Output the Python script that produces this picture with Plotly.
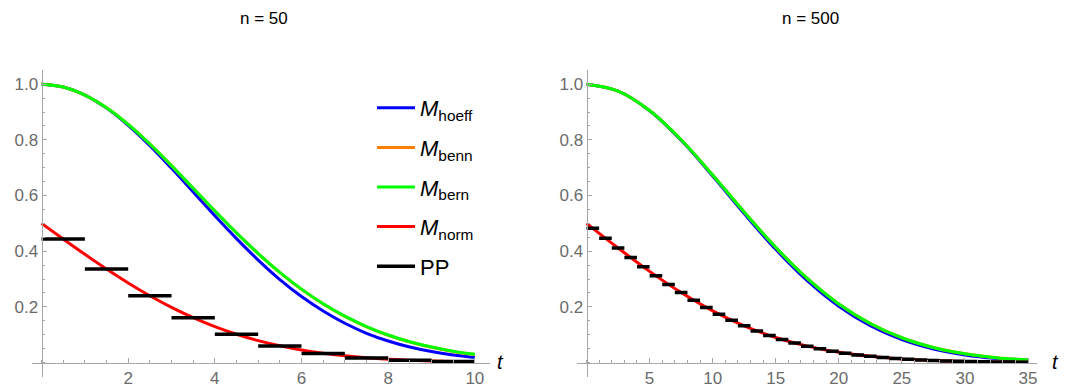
import plotly.graph_objects as go

# ---------------- data ----------------
t50 = [0, 0.5, 1, 1.5, 2, 2.5, 3, 3.5, 4, 4.5, 5, 5.5, 6, 6.5, 7, 7.5, 8, 8.5, 9, 9.5, 10]
hoeff50 = [1.0, 0.990, 0.961, 0.914, 0.852, 0.779, 0.698, 0.613, 0.527, 0.445, 0.368,
           0.298, 0.237, 0.185, 0.141, 0.105, 0.0773, 0.0556, 0.0392, 0.0271, 0.0183]
benn50 = [1.0, 0.990, 0.961, 0.9155, 0.8556, 0.7850, 0.7072, 0.6259, 0.5443, 0.4652, 0.3909,
          0.3231, 0.2627, 0.2101, 0.1655, 0.1283, 0.0979, 0.0736, 0.0545, 0.0398, 0.0286]
bern50 = [1.0, 0.990, 0.961, 0.9155, 0.8557, 0.7851, 0.7074, 0.6261, 0.5447, 0.4657, 0.3916,
          0.3239, 0.2636, 0.2111, 0.1665, 0.1293, 0.0989, 0.0746, 0.0554, 0.0406, 0.0293]
norm50 = [0.5, 0.4438, 0.3887, 0.3357, 0.2858, 0.2398, 0.1981, 0.1611, 0.1289, 0.1015, 0.0786,
          0.0599, 0.0448, 0.0330, 0.0239, 0.0169, 0.0118, 0.0081, 0.0055, 0.0036, 0.0023]
pp50_start = [0, 1, 2, 3, 4, 5, 6, 7, 8, 9]
pp50 = [0.4439, 0.3359, 0.2399, 0.1611, 0.1013, 0.0595, 0.0325, 0.0164, 0.0077, 0.0033]

t500 = [0, 2.5, 5, 7.5, 10, 12.5, 15, 17.5, 20, 22.5, 25, 27.5, 30, 32.5, 35]
hoeff500 = [1.0, 0.9753, 0.9048, 0.7985, 0.6703, 0.5353, 0.4066, 0.2938, 0.2019, 0.1320,
            0.0821, 0.0486, 0.0273, 0.0146, 0.00745]
benn500 = [1.0, 0.9754, 0.9054, 0.8003, 0.6739, 0.5407, 0.4137, 0.3020, 0.2104, 0.1399,
           0.0889, 0.0539, 0.0313, 0.0173, 0.00922]
bern500 = [1.0, 0.9754, 0.9054, 0.8003, 0.6739, 0.5408, 0.4138, 0.3021, 0.2105, 0.1400,
           0.0890, 0.0540, 0.0314, 0.0174, 0.00926]
norm500 = [0.5, 0.4115, 0.3274, 0.2512, 0.1855, 0.1318, 0.0899, 0.0588, 0.0368, 0.0221,
           0.0127, 0.0070, 0.0036, 0.0018, 0.0009]
pp500_start = list(range(35))
pp500 = [0.4822, 0.4466, 0.4115, 0.3771, 0.3437, 0.3114, 0.2805, 0.2512, 0.2235, 0.1977,
         0.1738, 0.1518, 0.1318, 0.1136, 0.0973, 0.0828, 0.0700, 0.0588, 0.0490, 0.0406,
         0.0334, 0.0272, 0.0221, 0.0178, 0.0142, 0.0113, 0.0089, 0.0070, 0.0054, 0.0042,
         0.0032, 0.0024, 0.0018, 0.0014, 0.0010]

titles = ["n = 50", "n = 500"]
names = ["<i>M</i><sub>hoeff</sub>", "<i>M</i><sub>benn</sub>", "<i>M</i><sub>bern</sub>",
         "<i>M</i><sub>norm</sub>", "PP"]
colors = ["#0000ff", "#ff8000", "#00ff00", "#ff0000", "#000000"]
y_ticks = [0.2, 0.4, 0.6, 0.8, 1.0]
y_ticktext = ["0.2", "0.4", "0.6", "0.8", "1.0"]
x_ticks_50 = [2, 4, 6, 8, 10]
x_ticks_500 = [5, 10, 15, 20, 25, 30, 35]

# ---------------- figure ----------------
W, H = 1070, 392
FONT = "Liberation Sans"
AX = "#a6a6a6"
LBL = "#6b6b6b"

fig = go.Figure()


def steps(starts, vals):
    xs, ys = [], []
    for s, v in zip(starts, vals):
        xs += [s, s + 1, None]
        ys += [v, v, None]
    return xs, ys


panels = [
    (t50, [hoeff50, benn50, bern50, norm50], pp50_start, pp50, "x", "y"),
    (t500, [hoeff500, benn500, bern500, norm500], pp500_start, pp500, "x2", "y2"),
]
for pi, (tt, curves, ps, pv, xa, ya) in enumerate(panels):
    for ci, cv in enumerate(curves):
        fig.add_trace(go.Scatter(
            x=tt, y=cv, mode="lines", name=names[ci],
            line=dict(color=colors[ci], width=3, shape="spline", smoothing=1.0),
            xaxis=xa, yaxis=ya, showlegend=(pi == 0), legendgroup="g%d" % ci,
            hoverinfo="skip"))
    sx, sy = steps(ps, pv)
    fig.add_trace(go.Scatter(
        x=sx, y=sy, mode="lines", name=names[4],
        line=dict(color=colors[4], width=3.5),
        xaxis=xa, yaxis=ya, showlegend=(pi == 0), legendgroup="g4",
        hoverinfo="skip"))

# pixel geometry
y_top_px, y_bot_px, y0_px = 70.0, 376.7, 362.5
ydom = [1 - y_bot_px / H, 1 - y_top_px / H]
yrng = [-0.051, 1.051]
x_axis_pos = 1 - y0_px / H

common_x = dict(showgrid=False, zeroline=False, showline=True, linecolor=AX, linewidth=1,
                ticks="inside", ticklen=4.5, tickcolor=AX, tickwidth=1,
                tickfont=dict(family=FONT, size=17, color=LBL),
                anchor="free", position=x_axis_pos)
common_y = dict(showgrid=False, zeroline=False, showline=True, linecolor=AX, linewidth=1,
                ticks="inside", ticklen=4.5, tickcolor=AX, tickwidth=1,
                tickfont=dict(family=FONT, size=17, color=LBL),
                domain=ydom, range=yrng, anchor="free",
                tickvals=y_ticks, ticktext=y_ticktext,
                minor=dict(tickmode="linear", tick0=0, dtick=0.05, ticks="inside",
                           ticklen=2.5, tickcolor=AX))

fig.update_layout(
    width=W, height=H,
    margin=dict(l=0, r=0, t=0, b=0),
    paper_bgcolor="white", plot_bgcolor="white",
    showlegend=True,
    legend=dict(x=372 / W, y=1 - 87 / H, xanchor="left", yanchor="top",
                font=dict(family=FONT, size=22, color="#000000"),
                itemwidth=38,
                tracegroupgap=8, bgcolor="rgba(0,0,0,0)"),
    xaxis=dict(common_x, domain=[32 / W, 490 / W], range=[-0.22, 10.35],
               tickvals=x_ticks_50,
               minor=dict(tickmode="linear", tick0=0, dtick=0.5, ticks="inside",
                          ticklen=2.5, tickcolor=AX)),
    yaxis=dict(common_y, position=41.6 / W),
    xaxis2=dict(common_x, domain=[576.7 / W, 1036.7 / W], range=[-0.78, 35.69],
                tickvals=x_ticks_500,
                minor=dict(tickmode="linear", tick0=0, dtick=1, ticks="inside",
                           ticklen=2.5, tickcolor=AX)),
    yaxis2=dict(common_y, position=586.5 / W),
)

# panel titles and axis labels
annos = []
for tx, cx in zip(titles, [264, 810]):
    annos.append(dict(text=tx, x=cx / W, y=1 - 19 / H, xref="paper", yref="paper",
                      xanchor="center", yanchor="middle", showarrow=False,
                      font=dict(family=FONT, size=17, color="#000000")))
for cx in [500, 1055]:
    annos.append(dict(text="<i>t</i>", x=cx / W, y=1 - 362 / H, xref="paper", yref="paper",
                      xanchor="center", yanchor="middle", showarrow=False,
                      font=dict(family=FONT, size=20, color="#000000")))
fig.update_layout(annotations=annos)

fig.write_html("out.html")
